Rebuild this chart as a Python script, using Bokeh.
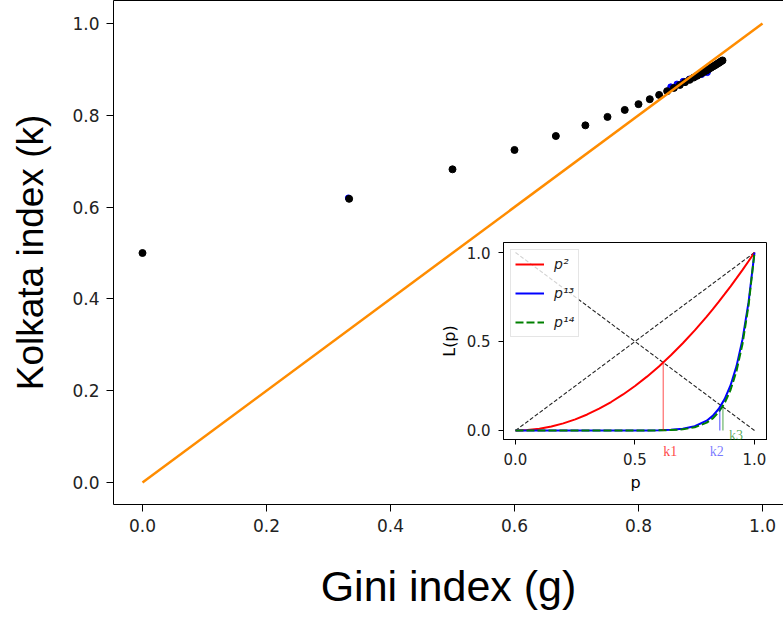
from bokeh.plotting import figure
from bokeh.models import (FixedTicker, LinearAxis, Range1d, Legend, LegendItem,
                          Label, PrintfTickFormatter)
from bokeh.layouts import column
from bokeh.embed import file_html
from bokeh.resources import INLINE

# ---------------- data ----------------
gini = [0.0, 0.3333, 0.5, 0.6, 0.6667, 0.7143, 0.75, 0.7778, 0.8, 0.8182,
        0.8333, 0.8462, 0.8571, 0.8667, 0.875, 0.8824, 0.8889, 0.8947, 0.9,
        0.9048, 0.9091, 0.913, 0.9167, 0.92, 0.9231, 0.9259, 0.9286, 0.931,
        0.9333, 0.9355]
kolkata = [0.5, 0.618, 0.6823, 0.7245, 0.7549, 0.7781, 0.7965, 0.8117, 0.8243,
           0.8351, 0.8444, 0.8526, 0.8597, 0.8661, 0.8722, 0.8772, 0.8821,
           0.8862, 0.8903, 0.894, 0.8973, 0.9004, 0.9034, 0.9062, 0.9087,
           0.9111, 0.9134, 0.9155, 0.9176, 0.9195]
blue_gini = [0.332, 0.852, 0.862, 0.872, 0.882, 0.892, 0.902, 0.911]
blue_kolkata = [0.62, 0.862, 0.868, 0.874, 0.879, 0.884, 0.889, 0.893]
equality_g = [0.0, 1.0]
equality_k = [0.0, 1.0]

main_ticks = [0.0, 0.2, 0.4, 0.6, 0.8, 1.0]
main_tick_labels = ["0.0", "0.2", "0.4", "0.6", "0.8", "1.0"]

# inset: Lorenz curves
p_grid = [0.0, 0.05, 0.1, 0.15, 0.2, 0.25, 0.3, 0.35, 0.4, 0.45, 0.5, 0.55,
          0.6, 0.65, 0.7, 0.75, 0.8, 0.825, 0.85, 0.875, 0.9, 0.925, 0.95,
          0.975, 1.0]
lorenz_p2 = [0.0, 0.0025, 0.01, 0.0225, 0.04, 0.0625, 0.09, 0.1225, 0.16,
             0.2025, 0.25, 0.3025, 0.36, 0.4225, 0.49, 0.5625, 0.64, 0.6806,
             0.7225, 0.7656, 0.81, 0.8556, 0.9025, 0.9506, 1.0]
lorenz_p13 = [0.0, 0.0, 0.0, 0.0, 0.0, 0.0, 0.0, 0.0, 0.0, 0.0, 0.0001, 0.0004,
              0.0013, 0.0037, 0.0097, 0.0238, 0.055, 0.082, 0.1209, 0.1763,
              0.2542, 0.363, 0.5133, 0.7196, 1.0]
lorenz_p14 = [0.0, 0.0, 0.0, 0.0, 0.0, 0.0, 0.0, 0.0, 0.0, 0.0, 0.0001, 0.0002,
              0.0008, 0.0024, 0.0068, 0.0178, 0.044, 0.0677, 0.1028, 0.1542,
              0.2288, 0.3357, 0.4877, 0.7016, 1.0]
diag_x = [0.0, 1.0]
diag_up = [0.0, 1.0]
diag_down = [1.0, 0.0]
k_names = ["k1", "k2", "k3"]
k_x = [0.618, 0.855, 0.868]
k_bottom = [0.0, 0.0, 0.0]
k_top = [0.382, 0.13, 0.138]
legend_labels = ["p\u00b2", "p\u00b9\u00b3", "p\u00b9\u2074"]
inset_ticks = [0.0, 0.5, 1.0]
inset_tick_labels = ["0.0", "0.5", "1.0"]

# ---------------- main figure ----------------
main = figure(width=783, height=617, output_backend="svg", toolbar_location=None,
              title=None,
              x_range=Range1d(-0.04677, 1.03387), y_range=Range1d(-0.0479, 1.0501),
              min_border_left=113, min_border_right=0, min_border_top=0,
              min_border_bottom=113)
main.background_fill_color = "white"
main.border_fill_color = "white"
main.outline_line_color = None
main.xgrid.visible = False
main.ygrid.visible = False


def style_axis(ax, ticks, labels, font_size, tick_out, standoff):
    ax.ticker = FixedTicker(ticks=ticks)
    ax.formatter = PrintfTickFormatter(format="%.1f")
    ax.major_label_overrides = {t: l for t, l in zip(ticks, labels)}
    ax.minor_tick_line_color = None
    ax.major_tick_in = 0
    ax.major_tick_out = tick_out
    ax.major_label_standoff = standoff
    ax.major_label_text_font = "DejaVu Sans"
    ax.major_label_text_font_size = font_size
    ax.major_label_text_color = "#222222"
    ax.axis_line_color = "black"
    ax.major_tick_line_color = "black"
    ax.axis_label_text_font_style = "normal"
    ax.axis_label_text_color = "black"


style_axis(main.xaxis[0], main_ticks, main_tick_labels, "17px", 7, 7)
style_axis(main.yaxis[0], main_ticks, main_tick_labels, "17px", 7, 7)
main.xaxis.axis_label = "Gini index (g)"
main.xaxis.axis_label_text_font = "Liberation Sans"
main.xaxis.axis_label_text_font_size = "43px"
main.xaxis.axis_label_standoff = 27
main.yaxis.axis_label = "Kolkata index (k)"
main.yaxis.axis_label_text_font = "Liberation Sans"
main.yaxis.axis_label_text_font_size = "37px"
main.yaxis.axis_label_standoff = 18

top_axis = LinearAxis(ticker=FixedTicker(ticks=[]), major_label_text_font_size="0px",
                      major_tick_out=0, major_tick_in=0, major_label_standoff=0,
                      axis_line_color="black")
main.add_layout(top_axis, "above")

main.scatter(blue_gini, blue_kolkata, size=6, color="blue")
main.scatter(gini, kolkata, size=7, color="black")
main.line(equality_g, equality_k, line_color="#ff8c00", line_width=2.5)

# ---------------- inset figure ----------------
inset_xr = (-0.0502, 1.0544)
inset = figure(width=377, height=264, output_backend="svg", toolbar_location=None,
               title=None,
               x_range=Range1d(*inset_xr), y_range=Range1d(-0.0506, 1.0562),
               min_border_left=113, min_border_right=0, min_border_top=7,
               min_border_bottom=60,
               styles={"position": "absolute", "left": "390px", "top": "235px"})
inset.border_fill_color = None
inset.background_fill_color = "white"
inset.outline_line_color = "black"
inset.xgrid.visible = False
inset.ygrid.visible = False
style_axis(inset.xaxis[0], inset_ticks, inset_tick_labels, "15px", 5, 8)
style_axis(inset.yaxis[0], inset_ticks, inset_tick_labels, "15px", 5, 8)
inset.xaxis.axis_label = "p"
inset.yaxis.axis_label = "L(p)"
for ax in (inset.xaxis[0], inset.yaxis[0]):
    ax.axis_label_text_font = "DejaVu Sans"
    ax.axis_label_text_font_size = "16px"
    ax.axis_label_standoff = 5

inset.line(diag_x, diag_up, line_color="#222222", line_width=1.1,
           line_dash="4 2")
inset.line(diag_x, diag_down, line_color="#222222", line_width=1.1,
           line_dash="4 2")
r2 = inset.line(p_grid, lorenz_p2, line_color="red", line_width=2)
r13 = inset.line(p_grid, lorenz_p13, line_color="blue", line_width=2)
r14 = inset.line(p_grid, lorenz_p14, line_color="green", line_width=2,
                 line_dash="8 3")

k_colors = ["red", "blue", "green"]
k_alphas = [0.75, 0.55, 0.65]
inset.segment(x0=k_x, y0=k_bottom, x1=k_x, y1=k_top, line_color=k_colors,
              line_alpha=0.7, line_width=1)

legend = Legend(items=[LegendItem(label=legend_labels[0], renderers=[r2]),
                       LegendItem(label=legend_labels[1], renderers=[r13]),
                       LegendItem(label=legend_labels[2], renderers=[r14])],
                location="top_left")
legend.margin = 7
legend.padding = 4
legend.spacing = 9
legend.glyph_width = 29
legend.glyph_height = 20
legend.label_height = 20
legend.label_standoff = 10
legend.label_text_font = "DejaVu Sans"
legend.label_text_font_size = "14px"
legend.label_text_font_style = "italic"
legend.label_text_color = "#222222"
legend.background_fill_alpha = 0.8
legend.border_line_color = "#cccccc"
legend.border_line_width = 1
inset.add_layout(legend)

# ---------------- transparent strip carrying the k labels ----------------
kstrip = figure(width=377, height=35, output_backend="svg", toolbar_location=None,
                title=None, x_axis_location=None, y_axis_location=None,
                x_range=Range1d(*inset_xr), y_range=Range1d(-0.1685, 0.0281),
                min_border_left=113, min_border_right=0, min_border_top=0,
                min_border_bottom=0,
                styles={"position": "absolute", "left": "390px", "top": "425px"})
kstrip.border_fill_color = None
kstrip.background_fill_color = None
kstrip.outline_line_color = None
kstrip.xgrid.visible = False
kstrip.ygrid.visible = False
k_label_offsets = [(0, -13), (-10, -13), (6, 3)]
for name, kx, ky, col, a, (xo, yo) in zip(k_names, k_x, k_bottom, k_colors,
                                          k_alphas, k_label_offsets):
    kstrip.add_layout(Label(x=kx, y=ky, x_offset=xo, y_offset=yo, text=name,
                            text_baseline="top", text_align="left",
                            text_font="Liberation Serif", text_font_size="14px",
                            text_color=col, text_alpha=a))

layout = column(main, inset, kstrip)
open("out.html", "w").write(file_html(layout, INLINE))
